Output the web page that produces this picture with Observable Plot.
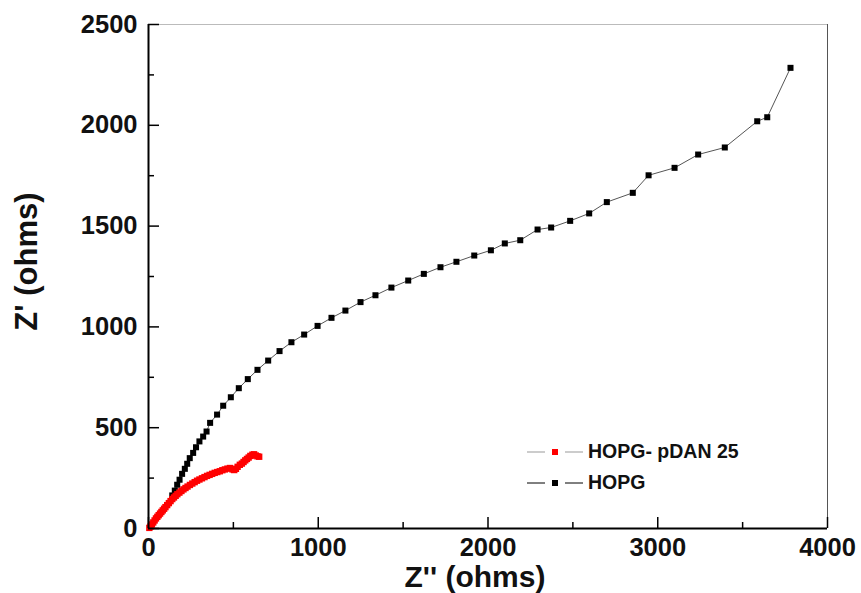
<!DOCTYPE html>
<html>
<head>
<meta charset="utf-8">
<script src="https://cdn.jsdelivr.net/npm/d3@7"></script>
<script src="https://cdn.jsdelivr.net/npm/@observablehq/plot@0.6"></script>
<style>
  body { margin: 0; background: #fff; }
  #wrap { position: relative; width: 861px; height: 593px; font-family: "Liberation Sans", Arial, sans-serif; }
  .leg { position: absolute; left: 527px; display: flex; align-items: center; font-weight: bold; font-size: 19.5px; color: #111; }
  .leg svg { margin-right: 5px; }
</style>
</head>
<body>
<div id="wrap"></div>
<script>
// HOPG series: Z'' (x) and Z' (y), ohms
const hopgX = [140,155,169,183,198,214,228,243,263,280,300,322,342,363,404,440,485,532,585,642,705,772,842,917,996,1078,1160,1249,1337,1431,1530,1622,1720,1814,1919,2017,2099,2190,2292,2372,2484,2596,2700,2853,2946,3099,3238,3395,3586,3645,3782];
const hopgY = [164,188,217,242,271,296,321,349,375,403,432,456,481,524,565,609,651,696,741,787,833,880,924,962,1005,1045,1081,1123,1157,1195,1230,1263,1296,1323,1354,1380,1414,1430,1483,1493,1526,1563,1619,1665,1752,1789,1855,1890,2020,2040,2285];

// HOPG- pDAN 25 series
const pdanX = [5,12,20,28,36,44,52,60,68,76,84,92,100,110,120,130,140,150,160,170,182,194,206,218,230,244,258,272,286,300,315,330,345,360,375,390,405,420,435,450,465,480,495,505,515,525,538,550,560,570,580,590,600,612,622,632,642,652];
const pdanY = [3,10,20,30,40,50,58,66,74,82,90,98,106,116,126,136,146,154,162,170,178,186,194,201,208,216,223,230,237,243,249,255,261,266,271,276,280,284,289,293,297,300,293,290,296,306,316,322,330,338,345,352,360,366,368,362,358,356];

const xTicks = [0, 1000, 2000, 3000, 4000];
const xMinor = [500, 1500, 2500, 3500];
const yTicks = [0, 500, 1000, 1500, 2000, 2500];
const yMinor = [250, 750, 1250, 1750, 2250];

const seriesNames = ["HOPG- pDAN 25", "HOPG"];
const xTitle = "Z'' (ohms)";
const yTitle = "Z' (ohms)";

const hopg = hopgX.map((x, i) => ({x, y: hopgY[i]}));
const pdan = pdanX.map((x, i) => ({x, y: pdanY[i]}));

const W = 861, H = 593, mL = 148, mR = 34, mT = 24, mB = 65;
const pw = W - mL - mR, ph = H - mT - mB;

const chart = Plot.plot({
  width: W, height: H,
  marginLeft: mL, marginRight: mR, marginTop: mT, marginBottom: mB,
  style: { fontFamily: "'Liberation Sans', Arial, sans-serif", background: "white", overflow: "visible" },
  x: { domain: [0, 4000] },
  y: { domain: [0, 2500] },
  marks: [
    // frame
    Plot.ruleY([2500], { stroke: "#bbb", strokeWidth: 1 }),
    Plot.ruleX([4000], { stroke: "#555", strokeWidth: 1 }),
    // inward ticks
    Plot.tickX(xTicks, { x: d => d, insetTop: ph - 11, stroke: "#000", strokeWidth: 1.5 }),
    Plot.tickX(xMinor, { x: d => d, insetTop: ph - 6, stroke: "#000", strokeWidth: 1.5 }),
    Plot.tickY(yTicks, { y: d => d, insetRight: pw - 11, stroke: "#000", strokeWidth: 1.5 }),
    Plot.tickY(yMinor, { y: d => d, insetRight: pw - 6, stroke: "#000", strokeWidth: 1.5 }),
    // tick labels
    Plot.axisX({ ticks: xTicks, tickSize: 0, tickPadding: 9, tickFormat: d => String(d), fontSize: 25.5, fontWeight: "bold", label: null, fill: "#111" }),
    Plot.axisY({ ticks: yTicks, tickSize: 0, tickPadding: 11, tickFormat: d => String(d), fontSize: 25.5, fontWeight: "bold", label: null, fill: "#111" }),
    // axis titles
    Plot.text([xTitle], { text: d => d, frameAnchor: "bottom", lineAnchor: "bottom", textAnchor: "middle", dy: 58, dx: -13, fontSize: 30, fontWeight: "bold", fill: "#111" }),
    Plot.text([yTitle], { text: d => d, frameAnchor: "left", textAnchor: "middle", dx: -121, dy: -15, rotate: -90, fontSize: 31, fontWeight: "bold", fill: "#111" }),
    // series
    Plot.line(hopg, { x: "x", y: "y", stroke: "#555", strokeWidth: 1 }),
    Plot.dot(hopg, { x: "x", y: "y", symbol: "square", r: 3.4, fill: "#000", stroke: null }),
    Plot.line(pdan, { x: "x", y: "y", stroke: "#999", strokeWidth: 1 }),
    Plot.dot(pdan, { x: "x", y: "y", symbol: "square", r: 3.6, fill: "#ff0000", stroke: null }),
    // axis lines
    Plot.ruleX([0], { stroke: "#000", strokeWidth: 2 }),
    Plot.ruleY([0], { stroke: "#000", strokeWidth: 2 })
  ]
});

const wrap = document.getElementById("wrap");
wrap.appendChild(chart);

const legendItems = [
  { name: seriesNames[0], color: "#ff0000", line: "#999", top: 440 },
  { name: seriesNames[1], color: "#000", line: "#000", top: 471 }
];
for (const it of legendItems) {
  const div = document.createElement("div");
  div.className = "leg";
  div.style.top = it.top + "px";
  div.innerHTML = `<svg width="56" height="22"><line x1="0" y1="11" x2="18" y2="11" stroke="${it.line}" stroke-width="1"/><rect x="25" y="8" width="6" height="6" fill="${it.color}"/><line x1="38" y1="11" x2="56" y2="11" stroke="${it.line}" stroke-width="1"/></svg><span></span>`;
  div.querySelector("span").textContent = it.name;
  wrap.appendChild(div);
}
</script>
</body>
</html>
